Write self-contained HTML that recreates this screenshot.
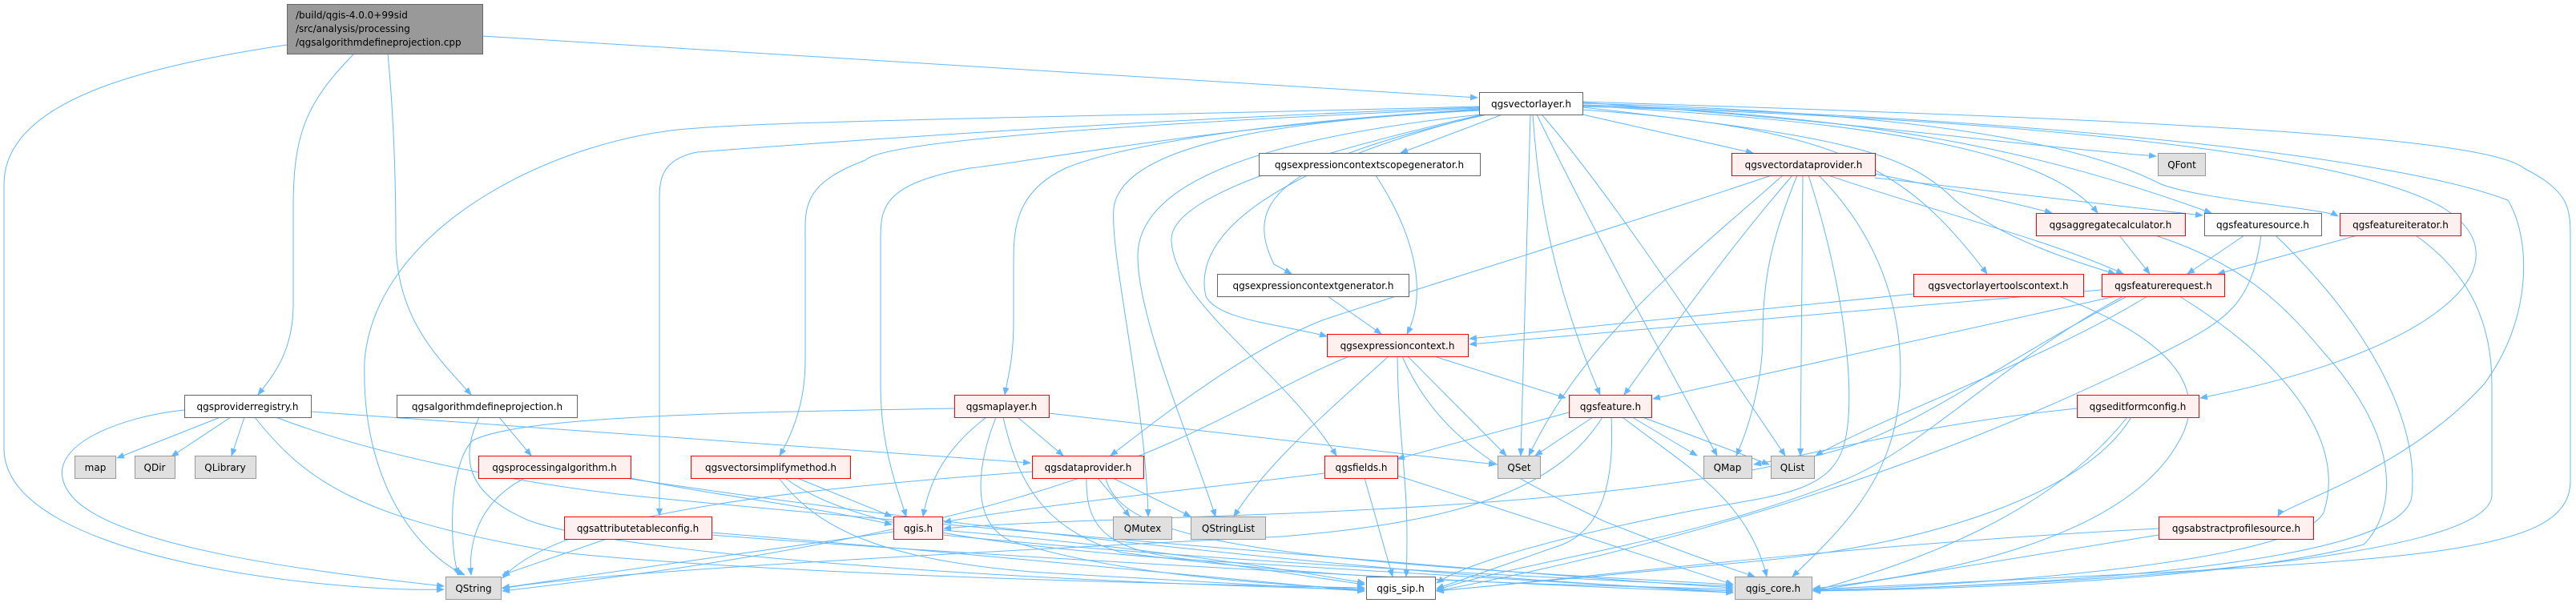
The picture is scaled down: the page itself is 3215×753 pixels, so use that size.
<!DOCTYPE html>
<html><head><meta charset="utf-8"><style>
html,body{margin:0;padding:0;background:#fff;}
svg{display:block;}
text{font-family:"DejaVu Sans","Liberation Sans",sans-serif;font-size:12px;fill:#000;}
.e{fill:none;stroke:#63b8ff;stroke-width:1;marker-end:url(#a);}
.r{fill:#fff0f0;stroke:#ff0000;stroke-width:1;}
.g{fill:#e0e0e0;stroke:#999;stroke-width:1;}
.w{fill:#fff;stroke:#666;stroke-width:1;}
</style></head><body>
<svg width="3215" height="753" viewBox="0 0 3215 753" xmlns="http://www.w3.org/2000/svg">
<defs><marker id="a" markerWidth="10" markerHeight="8" refX="9" refY="4" orient="auto" markerUnits="userSpaceOnUse"><path d="M0,0 L10,4 L0,8 z" fill="#63b8ff"/></marker></defs>
<g>
<path class="e" d="M358,56 C200,80 5,120 5,230 L5,560 C5,700 420,740 554,736"/>
<path class="e" d="M442,67 C380,130 366,170 366,260 L366,380 C366,440 340,470 322,493"/>
<path class="e" d="M484,67 C490,130 494,200 494,300 C494,400 550,450 588,493"/>
<path class="e" d="M602,45 L1844,122"/>
<path class="e" d="M275,521 L146,572"/>
<path class="e" d="M288,521 L214,570"/>
<path class="e" d="M305,521 L289,569"/>
<path class="e" d="M230,512 C150,520 40,560 90,620 C150,690 450,720 554,732"/>
<path class="e" d="M318,521 C380,600 450,650 700,690 C1000,720 1500,730 1703,734"/>
<path class="e" d="M344,521 C500,580 700,610 800,620 C1100,650 2000,725 2163,734"/>
<path class="e" d="M388,514 L1286,578"/>
<path class="e" d="M623,521 L663,569"/>
<path class="e" d="M598,521 C570,580 590,620 660,650 C800,700 1400,730 1703,736"/>
<path class="e" d="M655,597 C590,630 585,690 588,718"/>
<path class="e" d="M787,597 C900,620 1000,630 1113,655"/>
<path class="e" d="M780,597 C1200,660 1800,725 2163,738"/>
<path class="e" d="M760,672 L627,718"/>
<path class="e" d="M888,665 C1200,690 1500,720 1703,738"/>
<path class="e" d="M888,668 C1300,700 1900,730 2163,740"/>
<path class="e" d="M1191,510 C900,515 650,520 590,550 C560,580 560,680 572,718"/>
<path class="e" d="M1231,521 C1180,560 1160,600 1152,645"/>
<path class="e" d="M1270,521 L1327,569"/>
<path class="e" d="M1243,521 C1220,580 1210,650 1260,675 C1400,720 1600,730 1703,736"/>
<path class="e" d="M1252,521 C1270,600 1300,660 1400,690 C1700,730 2000,730 2163,736"/>
<path class="e" d="M1309,516 L1867,580"/>
<path class="e" d="M995,597 L1113,645"/>
<path class="e" d="M972,597 C1020,660 1100,700 1300,715 L1703,738"/>
<path class="e" d="M980,597 C1050,650 1200,680 1500,700 L2163,740"/>
<path class="e" d="M1288,589 C1000,610 700,640 627,722"/>
<path class="e" d="M1370,597 L1410,645"/>
<path class="e" d="M1389,597 L1486,645"/>
<path class="e" d="M1356,597 C1355,660 1380,690 1500,700 L1703,730"/>
<path class="e" d="M1380,597 C1400,680 1600,700 2163,730"/>
<path class="e" d="M1115,664 L627,734"/>
<path class="e" d="M1176,662 C1400,680 1600,710 1703,728"/>
<path class="e" d="M1176,668 C1500,700 1900,720 2163,732"/>
<path class="e" d="M1846,133 C1400,145 1000,150 870,160 C700,170 470,280 455,450 C450,600 520,690 580,718"/>
<path class="e" d="M1846,134 C1400,150 1000,180 870,190 C820,200 823,230 823,260 L823,644"/>
<path class="e" d="M1846,135 C1300,160 1100,180 1080,200 C1000,230 1005,260 1005,300 L1005,450 C1005,500 990,540 973,569"/>
<path class="e" d="M1846,136 C1500,160 1300,200 1210,210 C1100,230 1099,260 1099,300 L1099,480 C1099,560 1120,610 1131,645"/>
<path class="e" d="M1846,137 C1600,150 1400,180 1330,210 C1265,240 1265,290 1265,330 L1265,400 C1265,450 1258,470 1254,493"/>
<path class="e" d="M1846,138 C1600,150 1400,180 1390,260 C1385,320 1430,500 1433,645"/>
<path class="e" d="M1848,143 C1600,170 1420,220 1420,320 C1420,400 1490,560 1517,645"/>
<path class="e" d="M1850,143 C1600,200 1460,250 1462,300 C1465,380 1600,460 1668,569"/>
<path class="e" d="M1852,143 C1700,180 1480,260 1505,370 C1520,400 1600,405 1656,420"/>
<path class="e" d="M1856,143 C1600,200 1550,250 1590,330 L1612,342"/>
<path class="e" d="M1875,143 L1748,191"/>
<path class="e" d="M1910,143 L1898,569"/>
<path class="e" d="M1913,143 C1920,250 1940,360 1997,493"/>
<path class="e" d="M1918,143 C1980,270 2050,400 2143,569"/>
<path class="e" d="M1924,143 C2000,230 2100,380 2228,569"/>
<path class="e" d="M1975,143 L2188,191"/>
<path class="e" d="M1975,128 C2300,150 2500,180 2691,195"/>
<path class="e" d="M1975,132 C2300,150 2550,180 2618,266"/>
<path class="e" d="M1975,131 C2350,145 2550,190 2760,266"/>
<path class="e" d="M1975,129 C2400,140 2600,180 2697,230 C2750,250 2900,260 2918,270"/>
<path class="e" d="M1975,134 C2300,170 2380,190 2440,250 C2500,300 2600,330 2640,342"/>
<path class="e" d="M1975,137 C2300,160 2380,210 2480,342"/>
<path class="e" d="M1975,133 C2600,150 2950,200 3050,260 C3160,330 3040,440 2746,497"/>
<path class="e" d="M1975,131 C2600,150 3000,200 3130,250 C3160,300 3160,400 3100,480 C3000,590 2850,630 2843,645"/>
<path class="e" d="M1975,127 C2700,150 3100,170 3150,210 C3208,240 3208,260 3208,300 L3208,600 C3208,700 3000,700 2263,736"/>
<path class="e" d="M2211,219 C2000,290 1800,350 1650,400 C1550,440 1450,520 1386,569"/>
<path class="e" d="M2225,219 C2100,330 1980,420 1908,569"/>
<path class="e" d="M2237,219 C2150,320 2080,420 2027,493"/>
<path class="e" d="M2243,219 C2210,300 2200,350 2200,420 C2200,480 2180,540 2167,569"/>
<path class="e" d="M2250,219 L2247,569"/>
<path class="e" d="M2257,219 C2300,350 2320,500 2300,560 C2280,620 2200,620 2100,640 C1900,680 1820,710 1793,728"/>
<path class="e" d="M2270,219 C2350,300 2380,400 2370,500 C2360,600 2300,660 2237,720"/>
<path class="e" d="M2340,217 C2450,240 2500,250 2561,266"/>
<path class="e" d="M2340,222 L2749,269"/>
<path class="e" d="M2282,219 C2400,260 2560,300 2650,342"/>
<path class="e" d="M1717,219 C1770,300 1780,370 1756,417"/>
<path class="e" d="M1657,370 L1724,417"/>
<path class="e" d="M1790,445 L1954,497"/>
<path class="e" d="M1757,445 L1880,569"/>
<path class="e" d="M1733,445 C1650,520 1580,580 1540,645"/>
<path class="e" d="M1684,445 C1500,520 1400,650 627,738"/>
<path class="e" d="M1744,445 C1745,560 1760,600 1755,720"/>
<path class="e" d="M1750,445 C1800,560 1900,600 2000,650 C2100,690 2160,710 2190,720"/>
<path class="e" d="M1958,515 L1744,573"/>
<path class="e" d="M1988,521 L1916,569"/>
<path class="e" d="M2037,521 L2118,569"/>
<path class="e" d="M2050,521 L2208,580"/>
<path class="e" d="M2011,521 C2015,600 2000,660 1950,680 L1793,735"/>
<path class="e" d="M2025,521 C2100,580 2180,620 2205,720"/>
<path class="e" d="M2000,521 C1950,600 1850,650 1600,670 C1000,700 700,720 627,735"/>
<path class="e" d="M1653,591 C1500,610 1300,630 1178,652"/>
<path class="e" d="M1703,597 L1738,720"/>
<path class="e" d="M1744,594 L2163,730"/>
<path class="e" d="M2388,367 L1834,423"/>
<path class="e" d="M2570,370 C2700,420 2760,480 2720,550 C2650,680 2400,720 2263,735"/>
<path class="e" d="M2623,362 L1834,430"/>
<path class="e" d="M2640,370 L2063,498"/>
<path class="e" d="M2680,370 C2550,450 2350,520 2266,569"/>
<path class="e" d="M2655,370 C2500,450 2400,530 2300,560 C2000,650 1400,640 1178,660"/>
<path class="e" d="M2650,370 C2500,450 2400,560 2300,600 C2100,680 1900,700 1793,737"/>
<path class="e" d="M2720,370 C2850,450 2930,550 2900,640 C2870,700 2500,730 2263,737"/>
<path class="e" d="M2645,294 L2683,342"/>
<path class="e" d="M2690,294 C2800,330 2850,380 2900,440 C3000,550 2990,640 2950,680 C2800,720 2500,735 2263,738"/>
<path class="e" d="M2801,294 L2730,342"/>
<path class="e" d="M2822,294 C2810,380 2780,400 2700,440 C2500,540 2200,660 1793,738"/>
<path class="e" d="M2840,294 C2950,400 3020,520 3010,620 C3000,700 2600,730 2263,738"/>
<path class="e" d="M2942,294 L2768,342"/>
<path class="e" d="M3015,294 C3080,340 3110,400 3110,480 L3110,620 C3100,700 2600,730 2263,738"/>
<path class="e" d="M2592,510 C2400,530 2300,560 2189,580"/>
<path class="e" d="M2660,521 C2600,620 2400,680 2200,700 L1793,738"/>
<path class="e" d="M2655,521 C2560,640 2400,700 2263,738"/>
<path class="e" d="M2694,660 C2300,680 1900,730 1793,738"/>
<path class="e" d="M2694,668 L2263,738"/>
</g>
<g>
<rect x="358.5" y="5.5" width="244" height="62" fill="#999" stroke="#666"/>
<text x="369" y="23">/build/qgis-4.0.0+99sid</text>
<text x="369" y="40">/src/analysis/processing</text>
<text x="369" y="57">/qgsalgorithmdefineprojection.cpp</text>
</g>
<g text-anchor="middle">
<rect class="w" x="1846.5" y="115.5" width="129" height="28"/><text x="1911" y="134">qgsvectorlayer.h</text>
<rect class="w" x="1571.5" y="191.5" width="276" height="28"/><text x="1709" y="210">qgsexpressioncontextscopegenerator.h</text>
<rect class="r" x="2161.5" y="191.5" width="179" height="28"/><text x="2251" y="210">qgsvectordataprovider.h</text>
<rect class="g" x="2693.5" y="191.5" width="59" height="28"/><text x="2723" y="210">QFont</text>
<rect class="r" x="2541.5" y="266.5" width="186" height="28"/><text x="2634" y="285">qgsaggregatecalculator.h</text>
<rect class="w" x="2751.5" y="266.5" width="146" height="28"/><text x="2824" y="285">qgsfeaturesource.h</text>
<rect class="r" x="2920.5" y="266.5" width="151" height="28"/><text x="2996" y="285">qgsfeatureiterator.h</text>
<rect class="w" x="1519.5" y="342.5" width="239" height="28"/><text x="1639" y="361">qgsexpressioncontextgenerator.h</text>
<rect class="r" x="2388.5" y="342.5" width="212" height="28"/><text x="2494" y="361">qgsvectorlayertoolscontext.h</text>
<rect class="r" x="2623.5" y="342.5" width="153" height="28"/><text x="2700" y="361">qgsfeaturerequest.h</text>
<rect class="r" x="1656.5" y="417.5" width="176" height="28"/><text x="1744" y="436">qgsexpressioncontext.h</text>
<rect class="w" x="230.5" y="493.5" width="158" height="28"/><text x="309" y="512">qgsproviderregistry.h</text>
<rect class="w" x="495.5" y="493.5" width="225" height="28"/><text x="608" y="512">qgsalgorithmdefineprojection.h</text>
<rect class="r" x="1191.5" y="493.5" width="118" height="28"/><text x="1250" y="512">qgsmaplayer.h</text>
<rect class="r" x="1958.5" y="493.5" width="103" height="28"/><text x="2010" y="512">qgsfeature.h</text>
<rect class="r" x="2592.5" y="493.5" width="152" height="28"/><text x="2668" y="512">qgseditformconfig.h</text>
<rect class="g" x="93.5" y="569.5" width="51" height="28"/><text x="119" y="588">map</text>
<rect class="g" x="168.5" y="569.5" width="50" height="28"/><text x="193" y="588">QDir</text>
<rect class="g" x="243.5" y="569.5" width="76" height="28"/><text x="281" y="588">QLibrary</text>
<rect class="r" x="597.5" y="569.5" width="190" height="28"/><text x="692" y="588">qgsprocessingalgorithm.h</text>
<rect class="r" x="862.5" y="569.5" width="199" height="28"/><text x="962" y="588">qgsvectorsimplifymethod.h</text>
<rect class="r" x="1288.5" y="569.5" width="139" height="28"/><text x="1358" y="588">qgsdataprovider.h</text>
<rect class="r" x="1653.5" y="569.5" width="91" height="28"/><text x="1699" y="588">qgsfields.h</text>
<rect class="g" x="1869.5" y="569.5" width="53" height="28"/><text x="1896" y="588">QSet</text>
<rect class="g" x="2126.5" y="569.5" width="60" height="28"/><text x="2156" y="588">QMap</text>
<rect class="g" x="2210.5" y="569.5" width="54" height="28"/><text x="2237" y="588">QList</text>
<rect class="r" x="704.5" y="645.5" width="184" height="28"/><text x="796" y="664">qgsattributetableconfig.h</text>
<rect class="r" x="1115.5" y="645.5" width="61" height="28"/><text x="1146" y="664">qgis.h</text>
<rect class="g" x="1389.5" y="645.5" width="73" height="28"/><text x="1426" y="664">QMutex</text>
<rect class="g" x="1486.5" y="645.5" width="93" height="28"/><text x="1533" y="664">QStringList</text>
<rect class="r" x="2694.5" y="645.5" width="193" height="28"/><text x="2791" y="664">qgsabstractprofilesource.h</text>
<rect class="g" x="556.5" y="720.5" width="69" height="28"/><text x="591" y="739">QString</text>
<rect class="w" x="1705.5" y="720.5" width="86" height="28"/><text x="1748" y="739">qgis_sip.h</text>
<rect class="g" x="2165.5" y="720.5" width="96" height="28"/><text x="2213" y="739">qgis_core.h</text>
</g>
</svg>
</body></html>
